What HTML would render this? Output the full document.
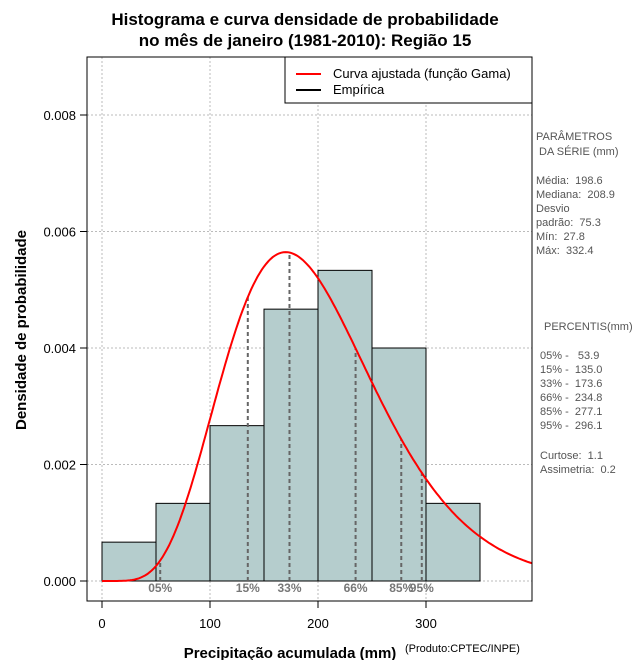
<!DOCTYPE html>
<html><head><meta charset="utf-8"><style>
body{margin:0;background:#fff;}
svg text{font-family:"Liberation Sans",sans-serif;white-space:pre;}
</style></head><body>
<svg id="c" width="640" height="660" xmlns="http://www.w3.org/2000/svg">
<text x="305" y="25" text-anchor="middle" font-size="17" font-weight="bold">Histograma e curva densidade de probabilidade</text>
<text x="305" y="46" text-anchor="middle" font-size="17" font-weight="bold">no mês de janeiro (1981-2010): Região 15</text>
<g id="plot"></g>
<rect x="87" y="57" width="445" height="544" fill="none" stroke="#000"/>
<g>
<rect x="285" y="57" width="247" height="46" fill="#fff" stroke="#000"/>
<line x1="296" y1="74" x2="321" y2="74" stroke="#f00" stroke-width="2"/>
<text x="333" y="78" font-size="13">Curva ajustada (função Gama)</text>
<line x1="296" y1="90" x2="321" y2="90" stroke="#000" stroke-width="2"/>
<text x="333" y="94" font-size="13">Empírica</text>
</g>
<text x="290" y="658" text-anchor="middle" font-size="15" font-weight="bold">Precipitação acumulada (mm)</text>
<text x="405" y="652" font-size="11">(Produto:CPTEC/INPE)</text>
<text transform="translate(26,330) rotate(-90)" text-anchor="middle" font-size="15" font-weight="bold">Densidade de probabilidade</text>
<g font-size="11" fill="#555">
<text x="536" y="140" fill="#555">PARÂMETROS</text>
<text x="536" y="155" fill="#555"> DA SÉRIE (mm)</text>
<text x="536" y="184" fill="#555">Média:  198.6</text>
<text x="536" y="198" fill="#555">Mediana:  208.9</text>
<text x="536" y="212" fill="#555">Desvio</text>
<text x="536" y="226" fill="#555">padrão:  75.3</text>
<text x="536" y="240" fill="#555">Mín:  27.8</text>
<text x="536" y="254" fill="#555">Máx:  332.4</text>
<text x="544" y="330" fill="#555">PERCENTIS(mm)</text>
<text x="540" y="359" fill="#555">05% -   53.9</text>
<text x="540" y="373" fill="#555">15% -  135.0</text>
<text x="540" y="387" fill="#555">33% -  173.6</text>
<text x="540" y="401" fill="#555">66% -  234.8</text>
<text x="540" y="415" fill="#555">85% -  277.1</text>
<text x="540" y="429" fill="#555">95% -  296.1</text>
<text x="540" y="459" fill="#555">Curtose:  1.1</text>
<text x="540" y="473" fill="#555">Assimetria:  0.2</text>
</g>
</svg>
<script>
const binStarts=[0,50,100,150,200,250,300];
const binWidth=50;
const densities=[0.000667,0.001333,0.002667,0.004667,0.005333,0.004,0.001333];
const xTicks=[0,100,200,300];
const yTicks=[0,0.002,0.004,0.006,0.008];
const yTickLabels=["0.000","0.002","0.004","0.006","0.008"];
const gammaMean=198.6;
const gammaSd=75.3;
const pctValues=[53.9,135.0,173.6,234.8,277.1,296.1];
const pctLabels=["05%","15%","33%","66%","85%","95%"];

const NS="http://www.w3.org/2000/svg";
const X=v=>102+v*1.08;
const Y=v=>581-v*58250;
const g=document.getElementById('plot');
function mk(t,a){const e=document.createElementNS(NS,t);for(const k in a)e.setAttribute(k,a[k]);g.appendChild(e);return e;}
function lg(z){const c=[676.5203681218851,-1259.1392167224028,771.32342877765313,-176.61502916214059,12.507343278686905,-0.13857109526572012,9.9843695780195716e-6,1.5056327351493116e-7];z-=1;let x=0.99999999999980993;for(let i=0;i<8;i++)x+=c[i]/(z+i+1);const t=z+7.5;return 0.5*Math.log(2*Math.PI)+(z+0.5)*Math.log(t)-t+Math.log(x);}
const k=(gammaMean/gammaSd)**2, th=gammaSd*gammaSd/gammaMean;
const pdf=x=>x<=0?0:Math.exp((k-1)*Math.log(x)-x/th-lg(k)-k*Math.log(th));

xTicks.forEach(v=>{const l=mk('line',{x1:X(v),x2:X(v),y1:57,y2:601,stroke:'#bbb','stroke-dasharray':'2,2'});
const t=mk('line',{x1:X(v),x2:X(v),y1:601,y2:608,stroke:'#000'});
const tx=mk('text',{x:X(v),y:628,'text-anchor':'middle','font-size':13});tx.textContent=v;});
yTicks.forEach((v,i)=>{const l=mk('line',{x1:87,x2:532,y1:Y(v),y2:Y(v),stroke:'#bbb','stroke-dasharray':'2,2'});
const t=mk('line',{x1:80,x2:87,y1:Y(v),y2:Y(v),stroke:'#000'});
const tx=mk('text',{x:76,y:Y(v)+5,'text-anchor':'end','font-size':13});tx.textContent=yTickLabels[i];});
binStarts.forEach((s,i)=>{const r=mk('rect',{x:X(s),y:Y(densities[i]),width:binWidth*1.08,height:Y(0)-Y(densities[i]),fill:'#b5cdcd',stroke:'#000'});});
pctValues.forEach((p,i)=>{const l=mk('line',{x1:X(p),x2:X(p),y1:Y(0),y2:Y(pdf(p)),stroke:'#666','stroke-width':2,'stroke-dasharray':'4,3'});
const t=mk('text',{x:X(p),y:592,'text-anchor':'middle','font-size':12,'font-weight':'bold',fill:'#777','font-family':'Liberation Mono, monospace'});t.textContent=pctLabels[i];});
let d='';for(let x=0;x<=400;x+=2){d+=(x?'L':'M')+X(x).toFixed(1)+','+Y(pdf(x)).toFixed(1);}
const cp=mk('clipPath',{id:'cl'});const cr=document.createElementNS(NS,'rect');cr.setAttribute('x',87);cr.setAttribute('y',57);cr.setAttribute('width',445);cr.setAttribute('height',544);cp.appendChild(cr);
const c=mk('path',{d:d,fill:'none',stroke:'#f00','stroke-width':2,'clip-path':'url(#cl)'});


</script>
</body></html>
